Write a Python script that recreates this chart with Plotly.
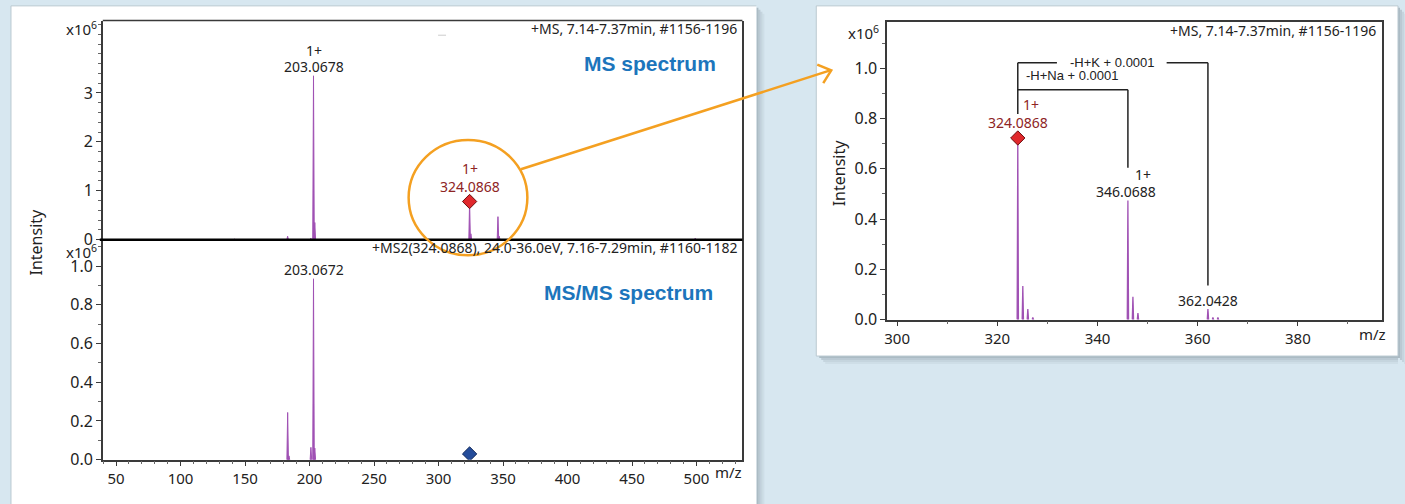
import plotly.graph_objects as go

W, H = 1405, 504

# ---------------- data ----------------
ms_mz = [142.0, 183.0, 201.0, 203.0678, 204.07, 324.0868, 325.09, 346.0688, 347.07, 499.0]
ms_int = [0.012, 0.07, 0.03, 3.35, 0.35, 0.78, 0.12, 0.47, 0.07, 0.03]          # x1e6

msms_mz = [183.03, 184.04, 201.05, 203.0672, 204.07]
msms_int = [0.244, 0.02, 0.064, 0.934, 0.06]                                   # x1e6

zoom_mz = [324.0868, 325.09, 326.09, 327.09, 346.0688, 347.07, 348.07, 362.0428, 363.04, 364.04]
zoom_int = [0.723, 0.134, 0.042, 0.008, 0.474, 0.091, 0.026, 0.042, 0.008, 0.008]  # x1e6

precursor_mz = 324.0868
precursor_ms_int = 0.78
precursor_msms_int = 0.03

left_xticks = [50, 100, 150, 200, 250, 300, 350, 400, 450, 500]
top_yticks = [0, 1, 2, 3]
bottom_yticks = [0.0, 0.2, 0.4, 0.6, 0.8, 1.0]
right_xticks = [300, 320, 340, 360, 380]
right_yticks = [0.0, 0.2, 0.4, 0.6, 0.8, 1.0]

ms_title = "+MS, 7.14-7.37min, #1156-1196"
msms_title = "+MS2(324.0868), 24.0-36.0eV, 7.16-7.29min, #1160-1182"
na_label = "-H+Na + 0.0001"
k_label = "-H+K + 0.0001"

# ---------------- helpers ----------------
def px(x):
    return x / W

def py(y):
    return 1 - y / H

def profile(mz, inten, half):
    xs, ys = [], []
    for m, h in sorted(zip(mz, inten)):
        xs += [m - half, m, m + half, m - half, None]
        ys += [0, h, 0, 0, None]
    return xs, ys

PEAK = "#A052B4"
ORANGE = "#F4A021"
BLUE_TXT = "#1C75BC"
DARKRED = "#8E2424"
AX = "#3a3a3a"
TXT = "#222222"
FONT = "Noto Sans"

fig = go.Figure()

# spectra
for (mz, it, half, lw, xa, ya) in [(ms_mz, ms_int, 0.6, 1.0, "x", "y"),
                                   (msms_mz, msms_int, 0.6, 1.0, "x2", "y2"),
                                   (zoom_mz, zoom_int, 0.13, 1.3, "x3", "y3")]:
    xs, ys = profile(mz, it, half)
    fig.add_trace(go.Scatter(x=xs, y=ys, mode="lines", line=dict(color=PEAK, width=lw),
                             fill="toself", fillcolor=PEAK, xaxis=xa, yaxis=ya,
                             hoverinfo="skip", showlegend=False))

# precursor markers
fig.add_trace(go.Scatter(x=[precursor_mz], y=[precursor_ms_int], mode="markers",
                         marker=dict(symbol="diamond", size=11, color="#E0282C",
                                     line=dict(color="#6b0f10", width=1)),
                         xaxis="x", yaxis="y", showlegend=False, hoverinfo="skip"))
fig.add_trace(go.Scatter(x=[precursor_mz], y=[precursor_msms_int], mode="markers",
                         marker=dict(symbol="diamond", size=11, color="#244C9A",
                                     line=dict(color="#10285a", width=1)),
                         xaxis="x2", yaxis="y2", showlegend=False, hoverinfo="skip"))
fig.add_trace(go.Scatter(x=[zoom_mz[0]], y=[zoom_int[0]], mode="markers",
                         marker=dict(symbol="diamond", size=11, color="#E0282C",
                                     line=dict(color="#6b0f10", width=1)),
                         xaxis="x3", yaxis="y3", showlegend=False, hoverinfo="skip"))

tickfont_y = dict(family=FONT, size=16, color=TXT)
tickfont_x = dict(family=FONT, size=15, color=TXT)

common = dict(showgrid=False, zeroline=False, fixedrange=True)

layout = dict(
    width=W, height=H,
    margin=dict(l=0, r=0, t=0, b=0),
    paper_bgcolor="#D7E7F0",
    plot_bgcolor="rgba(0,0,0,0)",
    showlegend=False,
    xaxis=dict(domain=[px(100), px(741)], range=[39.7, 535.6], anchor="y",
               showticklabels=False, ticks="", showline=False, **common),
    yaxis=dict(domain=[py(245), py(21)], range=[0, 4.48], anchor="x",
               tickvals=top_yticks, ticktext=[str(v) for v in top_yticks],
               ticks="outside", ticklen=5, tickcolor=AX, tickfont=tickfont_y,
               minor=dict(ticks="outside", ticklen=3, dtick=0.2, tickcolor="#666"),
               showline=True, linecolor=AX, linewidth=1.5, mirror=True, **common),
    xaxis2=dict(domain=[px(100), px(741)], range=[39.7, 535.6], anchor="y2",
                tickvals=left_xticks, ticktext=[str(v) for v in left_xticks],
                ticks="outside", ticklen=5, tickcolor=AX, tickfont=tickfont_x,
                minor=dict(ticks="outside", ticklen=3, dtick=10, tickcolor="#666"),
                showline=True, linecolor=AX, linewidth=1.5, **common),
    yaxis2=dict(domain=[py(470), py(245)], range=[0, 1.136], anchor="x2",
                tickvals=bottom_yticks, ticktext=[f"{v:.1f}" for v in bottom_yticks],
                ticks="outside", ticklen=5, tickcolor=AX, tickfont=tickfont_y,
                minor=dict(ticks="outside", ticklen=3, dtick=0.1, tickcolor="#666"),
                showline=True, linecolor=AX, linewidth=1.5, mirror=True, **common),
    xaxis3=dict(domain=[px(886), px(1382)], range=[298.0, 396.8], anchor="y3",
                tickvals=right_xticks, ticktext=[str(v) for v in right_xticks],
                ticks="outside", ticklen=5, tickcolor=AX, tickfont=tickfont_x,
                minor=dict(ticks="outside", ticklen=3, dtick=10, tickcolor="#666"),
                showline=True, linecolor=AX, linewidth=1.5, mirror=True, **common),
    yaxis3=dict(domain=[py(326.7), py(22.7)], range=[0, 1.184], anchor="x3",
                tickvals=right_yticks, ticktext=[f"{v:.1f}" for v in right_yticks],
                ticks="outside", ticklen=5, tickcolor=AX, tickfont=tickfont_y,
                minor=dict(ticks="outside", ticklen=3, dtick=0.1, tickcolor="#666"),
                showline=True, linecolor=AX, linewidth=1.5, mirror=True, **common),
)
fig.update_layout(**layout)

shapes = []
# cards + shadows
for i, a in enumerate([0.30, 0.20, 0.12, 0.06]):
    shapes.append(dict(type="rect", xref="paper", yref="paper",
                       x0=px(755 + 2 * i), x1=px(757 + 2 * i), y0=py(530), y1=py(8 + 2 * i),
                       fillcolor=f"rgba(70,85,95,{a})", line=dict(width=0), layer="below"))
    shapes.append(dict(type="rect", xref="paper", yref="paper",
                       x0=px(818 + 2 * i), x1=px(1398), y0=py(366 + 2 * i), y1=py(364 + 2 * i),
                       fillcolor=f"rgba(70,85,95,{a})", line=dict(width=0), layer="below"))
    shapes.append(dict(type="rect", xref="paper", yref="paper",
                       x0=px(1398 + 2 * i), x1=px(1400 + 2 * i), y0=py(366 + 2 * i), y1=py(8 + 2 * i),
                       fillcolor=f"rgba(70,85,95,{a})", line=dict(width=0), layer="below"))
shapes.append(dict(type="rect", xref="paper", yref="paper",
                   x0=px(8), x1=px(755), y0=py(530), y1=py(6),
                   fillcolor="white", line=dict(width=0), layer="below"))
shapes.append(dict(type="path", xref="paper", yref="paper",
                   path=f"M {px(8)} {py(530)} L {px(8)} {py(6)} L {px(755)} {py(6)}",
                   line=dict(color="#b9c8d0", width=1), layer="below"))
shapes.append(dict(type="rect", xref="paper", yref="paper",
                   x0=px(815), x1=px(1398), y0=py(364), y1=py(6),
                   fillcolor="white", line=dict(color="#b9c8d0", width=1), layer="below"))

# top border of MS panel and the divider line between panels
shapes.append(dict(type="line", xref="paper", yref="paper",
                   x0=px(100), x1=px(741), y0=py(21), y1=py(21),
                   line=dict(color=AX, width=1.5)))
shapes.append(dict(type="line", xref="paper", yref="paper",
                   x0=px(97), x1=px(741), y0=py(245), y1=py(245),
                   line=dict(color="black", width=2.5)))
# small artifact dash
shapes.append(dict(type="line", xref="paper", yref="paper",
                   x0=px(436), x1=px(444), y0=py(36), y1=py(36),
                   line=dict(color="#cccccc", width=1)))

# brackets in the zoom panel
mz_p, mz_na, mz_k = zoom_mz[0], zoom_mz[4], zoom_mz[7]
yk, yna = 1.023, 0.915
def seg(xa, ya, xb, yb):
    return dict(type="line", xref="x3", yref="y3", x0=xa, y0=ya, x1=xb, y1=yb,
                line=dict(color="#222", width=1.5))
shapes += [
    seg(mz_p, 0.818, mz_p, yk),
    seg(mz_p, yk, 331.9, yk),
    seg(353.8, yk, mz_k, yk),
    seg(mz_k, yk, mz_k, 0.136),
    seg(mz_p, yna, mz_na, yna),
    seg(mz_na, yna, mz_na, 0.604),
]

# orange circle + arrow
shapes.append(dict(type="circle", xref="paper", yref="paper",
                   x0=px(406.5), x1=px(525.5), y0=py(261), y1=py(143),
                   line=dict(color=ORANGE, width=2.5)))
shapes.append(dict(type="line", xref="paper", yref="paper",
                   x0=px(519), y0=py(173), x1=px(829), y1=py(72),
                   line=dict(color=ORANGE, width=2.5)))
shapes.append(dict(type="path", xref="paper", yref="paper",
                   path=f"M {px(816)} {py(66)} L {px(830)} {py(72)} L {px(822)} {py(85)}",
                   line=dict(color=ORANGE, width=2.5)))
fig.update_layout(shapes=shapes)

ann = []
def A(text, x, y, xref="paper", yref="paper", size=14, color=TXT, family=FONT,
      xanchor="center", yanchor="middle", xshift=0, yshift=0, textangle=0):
    ann.append(dict(text=text, x=x, y=y, xref=xref, yref=yref, showarrow=False,
                    font=dict(size=size, color=color, family=family),
                    xanchor=xanchor, yanchor=yanchor, xshift=xshift, yshift=yshift,
                    textangle=textangle))

# left panel texts
A(ms_title, px(738), py(29), xanchor="right")
A(msms_title, px(738), py(253), xanchor="right")
A("<b>MS spectrum</b>", px(648), py(65), size=21, color=BLUE_TXT, family="Liberation Sans")
A("<b>MS/MS spectrum</b>", px(627), py(299), size=21, color=BLUE_TXT, family="Liberation Sans")
A("x10<sup>6</sup>", px(96), py(29), xanchor="right", size=15)
A("x10<sup>6</sup>", px(96), py(257), xanchor="right", size=15)
A("Intensity", px(33), py(247), size=16, textangle=-90)
A("m/z", px(727), py(483), size=15)

# peak labels (left)
i203 = ms_int[3]
A("203.0678", ms_mz[3], i203, xref="x", yref="y", yshift=9)
A("1+", ms_mz[3], i203, xref="x", yref="y", yshift=25)
A("324.0868", precursor_mz, precursor_ms_int, xref="x", yref="y", yshift=15, color=DARKRED)
A("1+", precursor_mz, precursor_ms_int, xref="x", yref="y", yshift=33, color=DARKRED)
A("203.0672", msms_mz[3], msms_int[3], xref="x2", yref="y2", yshift=9)

# right panel texts
A(ms_title, px(1378), py(31), xanchor="right")
A("x10<sup>6</sup>", px(880), py(33), xanchor="right", size=15)
A("Intensity", px(838), py(177), size=16, textangle=-90)
A("m/z", px(1372), py(341), size=15)
A("324.0868", zoom_mz[0], zoom_int[0], xref="x3", yref="y3", yshift=15, color=DARKRED)
A("1+", zoom_mz[0], zoom_int[0], xref="x3", yref="y3", yshift=33, xshift=13, color=DARKRED)
A("346.0688", zoom_mz[4], zoom_int[4], xref="x3", yref="y3", yshift=9, xshift=-2)
A("1+", zoom_mz[4], zoom_int[4], xref="x3", yref="y3", yshift=26, xshift=15)
A("362.0428", zoom_mz[7], zoom_int[7], xref="x3", yref="y3", yshift=9)
A(k_label, 343.0, yk, xref="x3", yref="y3", size=13, family="Liberation Sans")
A(na_label, 325.4, 0.972, xref="x3", yref="y3", size=13, family="Liberation Sans", xanchor="left")

fig.update_layout(annotations=ann)

fig.write_html("out.html", config={"displayModeBar": False},
               post_script="document.body.style.margin='0';document.body.style.overflow='hidden';")
